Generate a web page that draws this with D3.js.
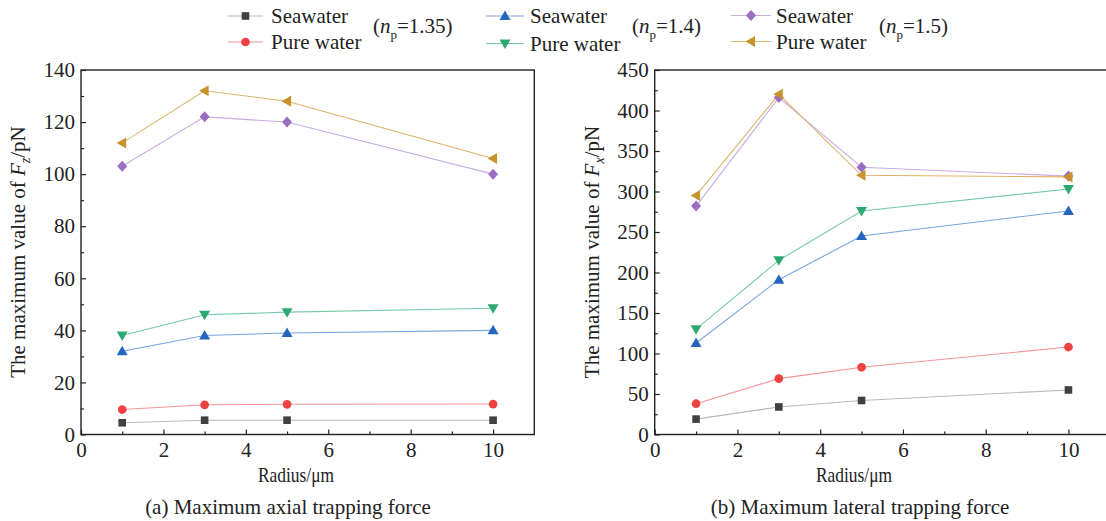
<!DOCTYPE html>
<html><head><meta charset="utf-8">
<script src="https://cdn.jsdelivr.net/npm/d3@7"></script>
<style>body{margin:0;background:#fff}svg{display:block}svg text{font-family:'Liberation Serif','Tinos','Times New Roman','Nimbus Roman','DejaVu Serif',serif !important;fill:#222}</style>
</head><body><svg id="c" width="1106" height="521"></svg>
<script>
const radius = [1, 3, 5, 10];
const seriesNames = ["Seawater", "Pure water", "Seawater", "Pure water", "Seawater", "Pure water"];
const groupLabels = ["1.35", "1.4", "1.5"];
// (a) Maximum axial trapping force, Fz (pN)
const fzSea135 = [4.5, 5.5, 5.5, 5.5];
const fzPure135 = [9.6, 11.4, 11.6, 11.7];
const fzSea14 = [32, 38, 39, 40];
const fzPure14 = [38, 46, 47, 48.5];
const fzSea15 = [103, 122, 120, 100];
const fzPure15 = [112, 132, 128, 106];
// (b) Maximum lateral trapping force, Fx (pN)
const fxSea135 = [19, 34, 42, 55];
const fxPure135 = [38, 69, 83, 108];
const fxSea14 = [113, 191, 245, 276];
const fxPure14 = [130, 215, 276, 303];
const fxSea15 = [282, 416, 330, 319];
const fxPure15 = [295, 420, 320, 318];
const xTicks = [0, 2, 4, 6, 8, 10];
const fzTicks = [0, 20, 40, 60, 80, 100, 120, 140];
const fxTicks = [0, 50, 100, 150, 200, 250, 300, 350, 400, 450];

const FONT = "'Liberation Serif','Tinos','Times New Roman','Nimbus Roman','DejaVu Serif',serif";
const styles = [
  {marker: "square", fill: "#404040", line: "#b8b8b8"},
  {marker: "circle", fill: "#ee4242", line: "#f49494"},
  {marker: "triUp", fill: "#2466bf", line: "#78a4e0"},
  {marker: "triDown", fill: "#2ea873", line: "#74cca4"},
  {marker: "diamond", fill: "#9a6ec2", line: "#c9aee3"},
  {marker: "triLeft", fill: "#c8922c", line: "#dcb468"}
];

const svg = d3.select("#c").attr("font-family", FONT);

function markerPath(type) {
  switch (type) {
    case "square": return "M-3.8,-3.8H3.8V3.8H-3.8Z";
    case "circle": return d3.symbol(d3.symbolCircle, 60)();
    case "triUp": return "M0,-5.5L5.5,4L-5.5,4Z";
    case "triDown": return "M0,5.5L5.5,-4L-5.5,-4Z";
    case "diamond": return "M0,-5.5L5,0L0,5.5L-5,0Z";
    case "triLeft": return "M-5.5,0L4,-5.5L4,5.5Z";
  }
}

function panel(cfg) {
  const g = svg.append("g");
  const x = d3.scaleLinear().domain([0, 11]).range([cfg.x0, cfg.x1]);
  const y = d3.scaleLinear().domain([0, cfg.ymax]).range([434.5, 70]);

  g.append("g").attr("transform", "translate(0,434.5)")
    .call(d3.axisBottom(x).tickValues(xTicks).tickSizeInner(-5).tickSizeOuter(0).tickPadding(8).tickFormat(d3.format("d")));
  g.append("g").attr("transform", "translate(0,434.5)")
    .call(d3.axisBottom(x).tickValues([1, 3, 5, 7, 9]).tickSizeInner(-3).tickSizeOuter(0).tickFormat(""));
  g.append("g").attr("transform", `translate(${cfg.x0},0)`)
    .call(d3.axisLeft(y).tickValues(cfg.yTicks).tickSizeInner(-5).tickSizeOuter(0).tickPadding(6));
  g.append("g").attr("transform", `translate(${cfg.x0},0)`)
    .call(d3.axisLeft(y).tickValues(cfg.yMinor).tickSizeInner(-3).tickSizeOuter(0).tickFormat(""));
  g.selectAll("g").attr("font-family", FONT).attr("font-size", 21);
  g.selectAll(".domain").remove();
  g.selectAll(".tick line").attr("stroke", "#222").attr("stroke-width", 1.2);
  g.selectAll(".tick text").attr("fill", "#222");

  g.append("rect").attr("x", cfg.x0).attr("y", 70).attr("width", cfg.x1 - cfg.x0).attr("height", 434.5 - 70)
    .attr("fill", "none").attr("stroke", "#222").attr("stroke-width", 1.4);

  const line = d3.line().x((d, i) => x(radius[i])).y(d => y(d));
  cfg.series.forEach((vals, k) => {
    g.append("path").attr("d", line(vals)).attr("fill", "none")
      .attr("stroke", styles[k].line).attr("stroke-width", 1.1);
  });
  cfg.series.forEach((vals, k) => {
    g.selectAll(null).data(vals).enter().append("path")
      .attr("d", markerPath(styles[k].marker))
      .attr("transform", (d, i) => `translate(${x(radius[i])},${y(d)})`)
      .attr("fill", styles[k].fill);
  });

  const yt = g.append("text").attr("font-size", 21)
    .attr("transform", `translate(${cfg.ytx},252) rotate(-90)`).attr("text-anchor", "middle");
  yt.append("tspan").text("The maximum value of ");
  yt.append("tspan").attr("font-style", "italic").text("F");
  yt.append("tspan").attr("font-style", "italic").attr("font-size", 14).attr("dy", 5).text(cfg.sub);
  yt.append("tspan").attr("dy", -5).text("/pN");

  g.append("text").attr("x", cfg.xlab - 38).attr("y", 482).attr("font-size", 21)
    .attr("textLength", 76).attr("lengthAdjust", "spacingAndGlyphs").text("Radius/μm");
  g.append("text").attr("x", cfg.cap).attr("y", 514).attr("font-size", 21)
    .attr("text-anchor", "middle").text(cfg.caption);
}

panel({x0: 81, x1: 534.3, ymax: 140, yTicks: fzTicks, yMinor: d3.range(10, 140, 20),
  series: [fzSea135, fzPure135, fzSea14, fzPure14, fzSea15, fzPure15],
  ytx: 25, sub: "z", xlab: 296, cap: 288, caption: "(a) Maximum axial trapping force"});
panel({x0: 654.7, x1: 1109.8, ymax: 450, yTicks: fxTicks, yMinor: d3.range(25, 450, 50),
  series: [fxSea135, fxPure135, fxSea14, fxPure14, fxSea15, fxPure15],
  ytx: 599, sub: "x", xlab: 854, cap: 860, caption: "(b) Maximum lateral trapping force"});

const legendGroups = [
  {lx0: 228, lx1: 263, tx: 271, ys: [16, 42], lab: 373},
  {lx0: 486, lx1: 524, tx: 530, ys: [16, 43.5], lab: 632},
  {lx0: 731, lx1: 771, tx: 776, ys: [15.5, 41.5], lab: 879}
];
legendGroups.forEach((lg, gi) => {
  [0, 1].forEach(r => {
    const k = gi * 2 + r;
    const yy = lg.ys[r];
    svg.append("line").attr("x1", lg.lx0).attr("x2", lg.lx1).attr("y1", yy).attr("y2", yy)
      .attr("stroke", styles[k].line).attr("stroke-width", 1.1);
    svg.append("path").attr("d", markerPath(styles[k].marker))
      .attr("transform", `translate(${(lg.lx0 + lg.lx1) / 2},${yy})`).attr("fill", styles[k].fill);
    svg.append("text").attr("x", lg.tx).attr("y", yy + 7).attr("font-size", 21).text(seriesNames[k]);
  });
  const t = svg.append("text").attr("x", lg.lab).attr("y", 33).attr("font-size", 21);
  t.append("tspan").text("(");
  t.append("tspan").attr("font-style", "italic").text("n");
  t.append("tspan").attr("font-size", 13).attr("dy", 6).text("p");
  t.append("tspan").attr("dy", -6).text("=" + groupLabels[gi] + ")");
});
</script></body></html>
